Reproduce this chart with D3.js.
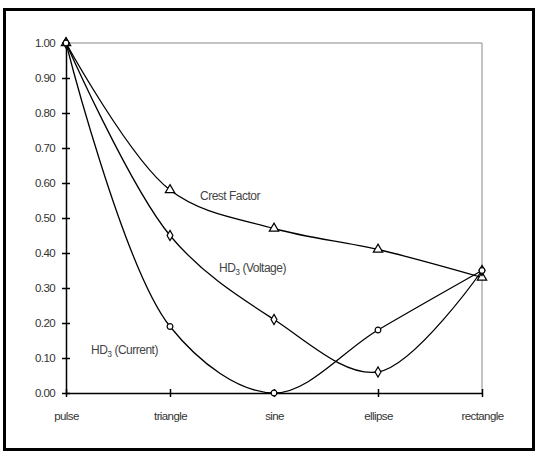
<!DOCTYPE html>
<html>
<head>
<meta charset="utf-8">
<script src="https://cdn.jsdelivr.net/npm/d3@7"></script>
<style>
  html, body { margin: 0; padding: 0; background: #fff; }
  svg { display: block; font-family: "Liberation Sans", Arial, sans-serif; }
</style>
</head>
<body>
<svg id="chart" width="537" height="455"></svg>
<script>
// Waveform categories along the x axis
const categories = ["pulse", "triangle", "sine", "ellipse", "rectangle"];

// Normalised values for each waveform
const crestFactor = [1.00, 0.58, 0.47, 0.41, 0.33];
const hd3Voltage  = [1.00, 0.45, 0.21, 0.06, 0.35];
const hd3Current  = [1.00, 0.19, 0.00, 0.18, 0.35];

// Y axis tick values
const yTicks = [0, 0.1, 0.2, 0.3, 0.4, 0.5, 0.6, 0.7, 0.8, 0.9, 1.0];

const svg = d3.select("#chart");

// Outer frame
svg.append("rect")
  .attr("x", 4.5).attr("y", 9.5)
  .attr("width", 529).attr("height", 440)
  .attr("fill", "none").attr("stroke", "#000").attr("stroke-width", 3);

const plotLeft = 66, plotRight = 482, plotTop = 43, plotBottom = 393;

const x = d3.scalePoint().domain(categories).range([plotLeft, plotRight]).padding(0);
const y = d3.scaleLinear().domain([0, 1]).range([plotBottom, plotTop]);

// Plot area border (top and right in grey)
svg.append("path")
  .attr("d", `M${plotLeft},${plotTop}H${plotRight}V${plotBottom}`)
  .attr("fill", "none").attr("stroke", "#888").attr("stroke-width", 1);

// Y axis
const yAxis = d3.axisLeft(y).tickValues(yTicks).tickFormat(d3.format(".2f"))
  .tickSizeInner(4).tickSizeOuter(0).tickPadding(7);
const gy = svg.append("g").attr("transform", `translate(${plotLeft},0)`).call(yAxis);
gy.select(".domain").attr("stroke", "#000").attr("stroke-width", 1.5);
gy.selectAll(".tick line").attr("x2", 4).attr("x1", -4).attr("stroke", "#000").attr("stroke-width", 1.5);
gy.selectAll(".tick text").attr("font-size", 11.5).attr("fill", "#333")
  .attr("font-family", "Liberation Sans, Arial, sans-serif").attr("letter-spacing", "-0.6");

// X axis
const xAxis = d3.axisBottom(x).tickSizeInner(4).tickSizeOuter(0).tickPadding(15);
const gx = svg.append("g").attr("transform", `translate(0,${plotBottom})`).call(xAxis);
gx.select(".domain").attr("stroke", "#000").attr("stroke-width", 1.5);
gx.selectAll(".tick line").attr("y1", -4).attr("y2", 4).attr("stroke", "#000").attr("stroke-width", 1.5);
gx.selectAll(".tick text").attr("font-size", 11.5).attr("fill", "#333")
  .attr("font-family", "Liberation Sans, Arial, sans-serif").attr("letter-spacing", "-0.6");

// Smoothed series lines
const line = d3.line()
  .x((d, i) => x(categories[i]))
  .y(d => y(d))
  .curve(d3.curveCatmullRom.alpha(0.5));

const series = [
  { values: crestFactor, marker: d3.symbolTriangle, size: 38 },
  { values: hd3Voltage,  marker: d3.symbolDiamond,  size: 30 },
  { values: hd3Current,  marker: d3.symbolCircle,   size: 26 }
];

series.forEach(s => {
  svg.append("path")
    .attr("d", line(s.values))
    .attr("fill", "none").attr("stroke", "#000").attr("stroke-width", 1.3);
});

series.forEach(s => {
  svg.append("g").selectAll("path")
    .data(s.values)
    .join("path")
    .attr("transform", (d, i) => `translate(${x(categories[i])},${y(d)})`)
    .attr("d", d3.symbol().type(s.marker).size(s.size))
    .attr("fill", "#fff").attr("stroke", "#000").attr("stroke-width", 1.2);
});

// Series labels
function seriesLabel(px, py, main, sub, rest) {
  const t = svg.append("text")
    .attr("x", px).attr("y", py)
    .attr("font-size", 12).attr("fill", "#444").attr("letter-spacing", "-0.5");
  t.append("tspan").text(main);
  if (sub) {
    t.append("tspan").attr("dy", 3).attr("font-size", 8.5).text(sub);
    t.append("tspan").attr("dy", -3).text(rest);
  }
}
seriesLabel(200, 200, "Crest Factor");
seriesLabel(219, 272, "HD", "3", " (Voltage)");
seriesLabel(91, 354, "HD", "3", " (Current)");
</script>
</body>
</html>
